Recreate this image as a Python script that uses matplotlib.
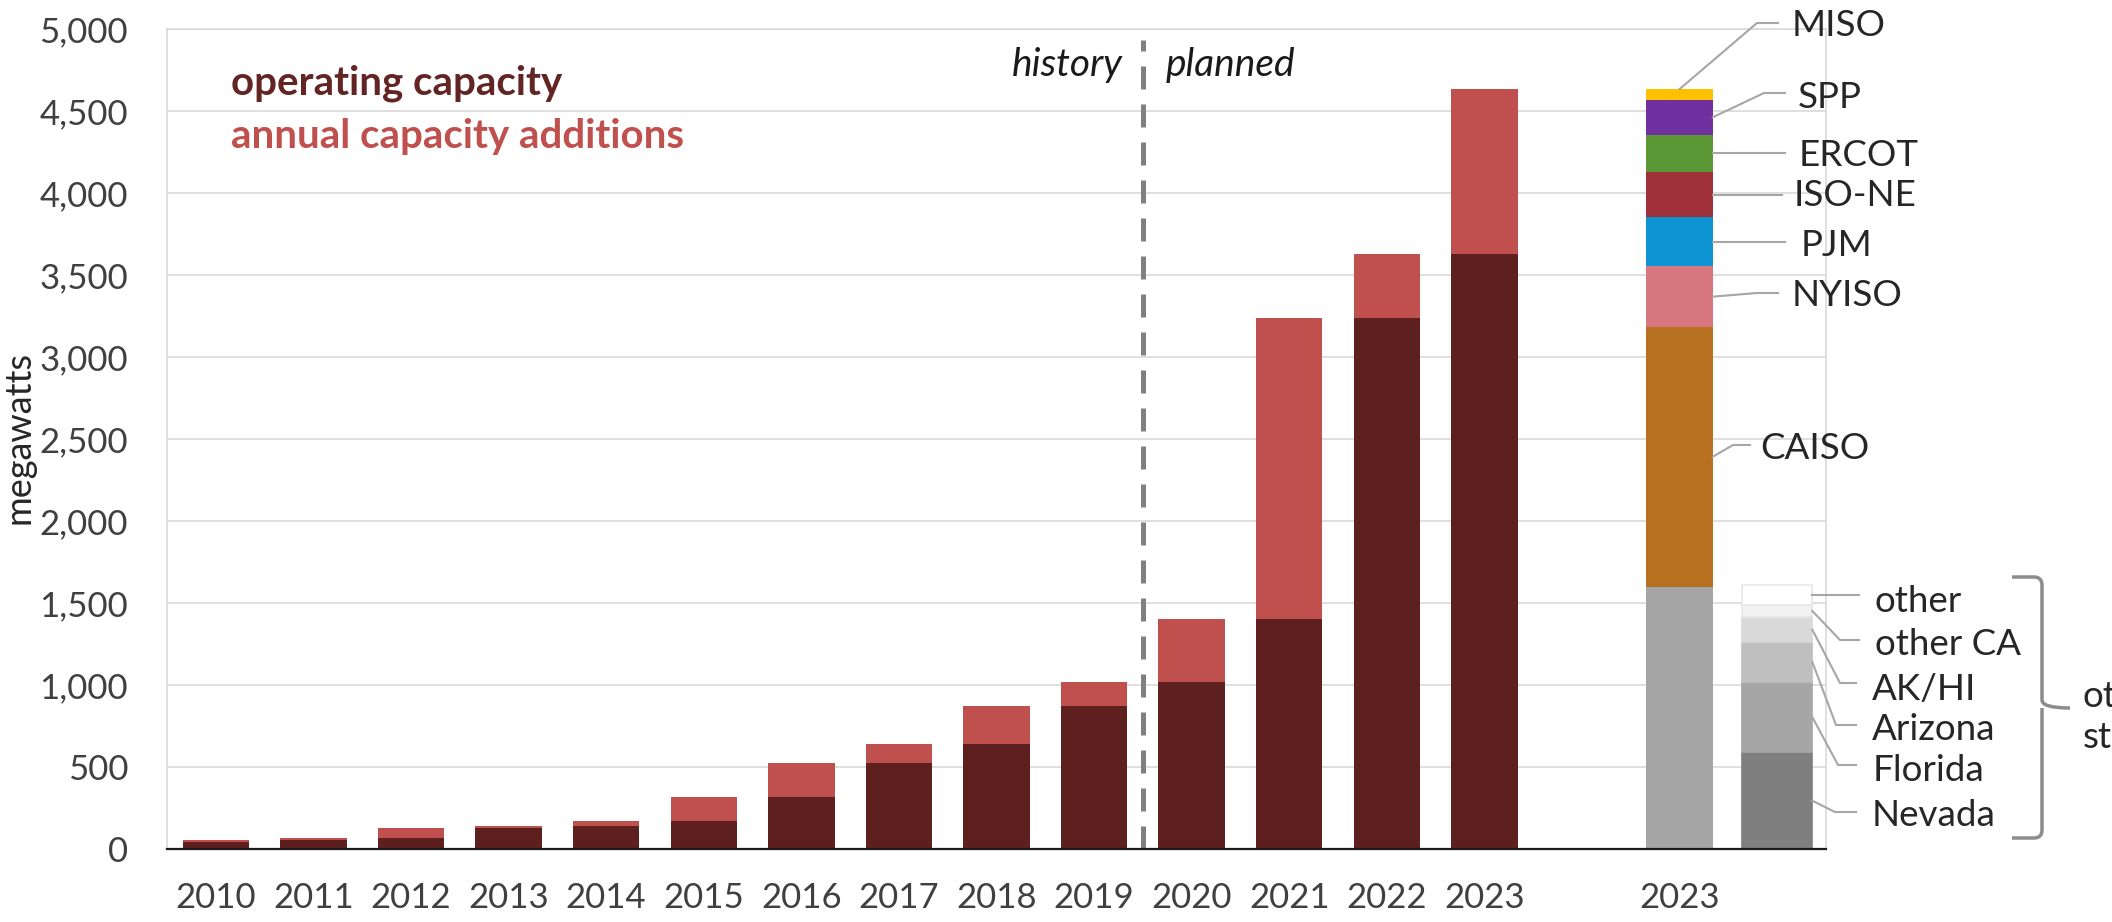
import matplotlib
matplotlib.use("Agg")
import matplotlib.pyplot as plt
from matplotlib.lines import Line2D
from matplotlib.ticker import FuncFormatter, MultipleLocator
from matplotlib.path import Path
from matplotlib.patches import PathPatch
import numpy as np

plt.rcParams['font.family'] = ['Lato', 'DejaVu Sans']

# ---------------- data ----------------
years = ["2010", "2011", "2012", "2013", "2014", "2015", "2016",
         "2017", "2018", "2019", "2020", "2021", "2022", "2023"]
operating = [41, 55, 65, 130, 142, 173, 319, 525, 641, 870, 1017, 1405, 3238, 3628]
additions = [14, 10, 65, 12, 31, 146, 206, 116, 229, 147, 388, 1833, 390, 1008]

regions = ["other states", "CAISO", "NYISO", "PJM", "ISO-NE", "ERCOT", "SPP", "MISO"]
region_mw = [1600, 1584, 368, 299, 277, 227, 214, 65]
region_colors = ["#A5A5A5", "#B87121", "#D87680", "#0E93D3", "#A0313A",
                 "#5B9734", "#7030A0", "#FFC000"]

states = ["Nevada", "Florida", "Arizona", "AK/HI", "other CA", "other"]
state_mw = [589, 431, 241, 152, 77, 122]
state_colors = ["#7F7F7F", "#A6A6A6", "#BFBFBF", "#D9D9D9", "#F2F2F2", "#FFFFFF"]

breakdown_label = "2023"

# ---------------- figure ----------------
W, H = 2112, 922
fig = plt.figure(figsize=(W / 100, H / 100), dpi=100)
ax = fig.add_axes([167 / W, 1 - 849 / H, (1826 - 167) / W, (849 - 29) / H])

DARK = "#5E1F1F"
RED = "#C0504D"
x = np.arange(len(years))
bw = 0.68
ax.bar(x, operating, width=bw, color=DARK, zorder=3)
ax.bar(x, additions, width=bw, bottom=operating, color=RED, zorder=3)

# regional breakdown bar
xr = len(years) + 1
bottoms = np.concatenate([[0], np.cumsum(region_mw)[:-1]])
for v, b, c in zip(region_mw, bottoms, region_colors):
    ax.bar(xr, v, width=bw, bottom=b, color=c, zorder=3)

# other states bar
xs = xr + 1
sw = 0.72
sbottoms = np.concatenate([[0], np.cumsum(state_mw)[:-1]])
for i, (v, b, c) in enumerate(zip(state_mw, sbottoms, state_colors)):
    ec = "#E6E6E6" if i >= 4 else c
    ax.bar(xs, v, width=sw, bottom=b, color=c, edgecolor=ec, linewidth=1.2, zorder=3)

ax.set_xlim(-0.5, xs + 0.5)
ax.set_ylim(0, 5000)
ax.yaxis.set_major_locator(MultipleLocator(500))
ax.yaxis.set_major_formatter(FuncFormatter(lambda v, p: f"{int(v):,}"))
ax.set_xticks(list(x) + [xr])
ax.set_xticklabels(years + [breakdown_label])
ax.tick_params(axis='both', length=0, labelsize=25, colors="#404040")
ax.tick_params(axis='y', pad=28)
ax.tick_params(axis='x', pad=24)
ax.grid(axis='y', color="#D9D9D9", lw=1.2, zorder=0)
ax.set_axisbelow(True)
for s in ["left", "right", "top"]:
    ax.spines[s].set_color("#D9D9D9")
    ax.spines[s].set_linewidth(1.2)
ax.spines["bottom"].set_color("#1A1A1A")
ax.spines["bottom"].set_linewidth(1.6)
ax.spines["bottom"].set_zorder(5)

# history / planned divider
ax.axvline(9.5, ymin=0, ymax=4933 / 5000, color="#808080", lw=3.6,
           ls=(0, (4.6, 3.0)), zorder=4)

def fx(px):
    return px / W

def fy(py):
    return 1 - py / H

fig.text(fx(1123), fy(65), "history", ha='right', va='center', fontsize=28,
         style='italic', color="#1A1A1A")
fig.text(fx(1166), fy(65), "planned", ha='left', va='center', fontsize=28,
         style='italic', color="#1A1A1A")

fig.text(fx(231), fy(83), "operating capacity", ha='left', va='center', fontsize=29,
         fontweight='bold', color="#632523")
fig.text(fx(231), fy(136), "annual capacity additions", ha='left', va='center', fontsize=29,
         fontweight='bold', color=RED)

# y-axis label
fig.text(fx(2), fy(437), "megawatts", rotation=90, ha='left', va='center',
         fontsize=26, color="#262626")

# ---------------- leader lines & labels ----------------
LC = "#A6A6A6"
LFS = 26.5
fig.canvas.draw()

def data_to_px(xd, yd):
    dx, dy = ax.transData.transform((xd, yd))
    return dx, H - dy

def leader(anchor, pts, label, tx, ty):
    ax_px = [anchor[0]] + [p[0] for p in pts]
    ay_px = [anchor[1]] + [p[1] for p in pts]
    fig.add_artist(Line2D([fx(v) for v in ax_px], [fy(v) for v in ay_px],
                          color=LC, lw=1.5, transform=fig.transFigure, zorder=6))
    fig.text(fx(tx), fy(ty + 2), label, ha='left', va='center', fontsize=LFS,
             color="#262626")

rtops = np.cumsum(region_mw)
rmid = bottoms + np.array(region_mw) / 2
right_edge = xr + bw / 2
a = data_to_px(xr, rtops[-1])
leader(a, [(1757, 23), (1778, 23)], "MISO", 1792, 23)
a = data_to_px(right_edge, rmid[6])
leader(a, [(1764, 93), (1785, 93)], "SPP", 1798, 95)
a = data_to_px(right_edge, rmid[5])
leader(a, [(1785, a[1])], "ERCOT", 1799, 153)
a = data_to_px(right_edge, rmid[4])
leader(a, [(1782, a[1])], "ISO-NE", 1794, 193)
a = data_to_px(right_edge, rmid[3])
leader(a, [(1785, a[1])], "PJM", 1801, 243)
a = data_to_px(right_edge, rmid[2])
leader(a, [(1757, 293), (1778, 293)], "NYISO", 1792, 293)
a = data_to_px(right_edge, rmid[1])
leader(a, [(1733, 445), (1750, 445)], "CAISO", 1760, 446)

smid = sbottoms + np.array(state_mw) / 2
s_edge = xs + sw / 2
state_layout = {
    "other":    ([(1859, 598)], 1875, 600),
    "other CA": ([(1840, 640), (1859, 640)], 1875, 642),
    "AK/HI":    ([(1840, 683), (1856, 683)], 1872, 687),
    "Arizona":  ([(1836, 725), (1856, 725)], 1872, 727),
    "Florida":  ([(1838, 765), (1856, 765)], 1873, 768),
    "Nevada":   ([(1835, 812), (1856, 812)], 1872, 813),
}
for name, m in zip(states, smid):
    pts, tx, ty = state_layout[name]
    a = data_to_px(s_edge, m)
    if name == "other":
        pts = [(pts[0][0], a[1])]
    leader(a, pts, name, tx, ty)

# brace
bx0, bx1, btop, bbot, bmid, btip = 2012, 2042, 577, 838, 708, 2070
r = 8
verts = [(bx0, btop), (bx1 - r, btop), (bx1, btop), (bx1, btop + r),
         (bx1, bmid - r), (bx1, bmid), (btip, bmid),
         (bx1, bmid), (bx1, bmid + r),
         (bx1, bbot - r), (bx1, bbot), (bx1 - r, bbot), (bx0, bbot)]
codes = [Path.MOVETO, Path.LINETO, Path.CURVE3, Path.CURVE3,
         Path.LINETO, Path.CURVE3, Path.CURVE3,
         Path.MOVETO, Path.CURVE3,
         Path.LINETO, Path.CURVE3, Path.CURVE3, Path.LINETO]
verts_f = [(fx(vx), fy(vy)) for vx, vy in verts]
fig.add_artist(PathPatch(Path(verts_f, codes), fill=False, edgecolor="#8C8C8C",
                         lw=2.5, transform=fig.transFigure))
fig.text(fx(2083), fy(717), "other\nstates", ha='left', va='center', fontsize=LFS,
         color="#262626", linespacing=1.3)

fig.savefig("out.png", dpi=100)
